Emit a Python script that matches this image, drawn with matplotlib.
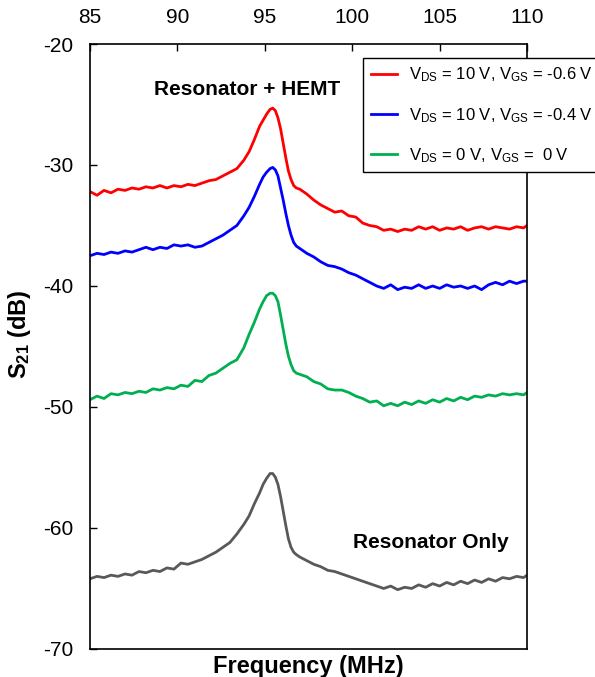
import matplotlib
matplotlib.use("Agg")
import matplotlib.pyplot as plt

plt.rcParams["font.family"] = ["Liberation Sans", "DejaVu Sans"]
plt.rcParams["mathtext.fontset"] = "custom"
plt.rcParams["mathtext.rm"] = "Liberation Sans"
plt.rcParams["mathtext.it"] = "Liberation Sans:italic"
plt.rcParams["mathtext.bf"] = "Liberation Sans:bold"
plt.rcParams["axes.unicode_minus"] = False

freq = [85.0, 85.4, 85.8, 86.2, 86.6, 87.0, 87.4, 87.8, 88.2, 88.6, 89.0, 89.4,
        89.8, 90.2, 90.6, 91.0, 91.4, 91.8, 92.2, 92.6, 93.0, 93.4, 93.8,
        94.1, 94.4, 94.7, 94.9, 95.1, 95.3, 95.45, 95.6, 95.75, 95.9, 96.05,
        96.2, 96.35, 96.5, 96.65, 96.8,
        97.0, 97.4, 97.8, 98.2, 98.6, 99.0, 99.4, 99.8, 100.2, 100.6, 101.0,
        101.4, 101.8, 102.2, 102.6, 103.0, 103.4, 103.8, 104.2, 104.6, 105.0,
        105.4, 105.8, 106.2, 106.6, 107.0, 107.4, 107.8, 108.2, 108.6, 109.0,
        109.4, 109.8, 110.0]

s21_red = [-32.2, -32.5, -32.1, -32.3, -32.0, -32.1, -31.9, -32.0, -31.8, -31.9, -31.7, -31.9,
           -31.7, -31.8, -31.6, -31.7, -31.5, -31.3, -31.2, -30.9, -30.6, -30.3, -29.6,
           -28.9, -27.9, -26.8, -26.3, -25.8, -25.4, -25.3, -25.5, -26.1, -27.0, -28.2,
           -29.4, -30.5, -31.2, -31.7, -31.9,
           -32.0, -32.4, -32.9, -33.3, -33.6, -33.9, -33.8, -34.2, -34.3, -34.8, -35.0,
           -35.1, -35.4, -35.3, -35.5, -35.3, -35.4, -35.1, -35.3, -35.1, -35.4,
           -35.2, -35.3, -35.1, -35.4, -35.2, -35.1, -35.3, -35.1, -35.2, -35.3,
           -35.1, -35.2, -35.0]

s21_blue = [-37.5, -37.3, -37.4, -37.2, -37.3, -37.1, -37.2, -37.0, -36.8, -37.0, -36.8, -36.9,
            -36.6, -36.7, -36.6, -36.8, -36.7, -36.4, -36.1, -35.8, -35.4, -35.0, -34.2,
            -33.5, -32.6, -31.6, -31.0, -30.6, -30.3, -30.2, -30.4, -30.9, -31.9, -32.9,
            -34.0, -35.0, -35.8, -36.4, -36.7,
            -36.9, -37.3, -37.6, -38.0, -38.3, -38.4, -38.6, -38.9, -39.1, -39.4, -39.7,
            -40.0, -40.2, -39.9, -40.3, -40.1, -40.2, -39.9, -40.2, -40.0, -40.2,
            -39.9, -40.1, -40.0, -40.2, -40.0, -40.3, -39.9, -39.7, -39.9, -39.6,
            -39.8, -39.6, -39.6]

s21_green = [-49.4, -49.1, -49.3, -48.9, -49.0, -48.8, -48.9, -48.7, -48.8, -48.5, -48.6, -48.4,
             -48.5, -48.2, -48.3, -47.8, -47.9, -47.4, -47.2, -46.8, -46.4, -46.1, -45.1,
             -44.0, -43.0, -41.9, -41.3, -40.8, -40.6, -40.6, -40.8, -41.3, -42.4, -43.6,
             -44.8, -45.8, -46.5, -47.0, -47.2,
             -47.3, -47.5, -47.9, -48.1, -48.5, -48.6, -48.6, -48.8, -49.1, -49.3, -49.6,
             -49.5, -49.9, -49.7, -49.9, -49.6, -49.8, -49.5, -49.7, -49.4, -49.6,
             -49.3, -49.5, -49.2, -49.4, -49.1, -49.2, -49.0, -49.1, -48.9, -49.0,
             -48.9, -49.0, -48.8]

s21_only = [-64.2, -64.0, -64.1, -63.9, -64.0, -63.8, -63.9, -63.6, -63.7, -63.5, -63.6, -63.3,
            -63.4, -62.9, -63.0, -62.8, -62.6, -62.3, -62.0, -61.6, -61.2, -60.5, -59.7,
            -59.0, -58.0, -57.1, -56.4, -55.9, -55.5, -55.5, -55.8, -56.4, -57.4, -58.6,
            -59.8, -60.9, -61.6, -62.0, -62.2,
            -62.4, -62.7, -63.0, -63.2, -63.5, -63.6, -63.8, -64.0, -64.2, -64.4, -64.6,
            -64.8, -65.0, -64.8, -65.1, -64.9, -65.0, -64.7, -64.9, -64.6, -64.8,
            -64.5, -64.7, -64.4, -64.6, -64.3, -64.5, -64.2, -64.4, -64.1, -64.2,
            -64.0, -64.1, -63.9]

labels = [r"V$_{\mathrm{DS}}$ = 10 V, V$_{\mathrm{GS}}$ = -0.6 V",
          r"V$_{\mathrm{DS}}$ = 10 V, V$_{\mathrm{GS}}$ = -0.4 V",
          r"V$_{\mathrm{DS}}$ = 0 V, V$_{\mathrm{GS}}$ =  0 V"]

fig = plt.figure(figsize=(5.95, 6.77), dpi=100)
ax = fig.add_axes([0.1513, 0.0414, 0.7345, 0.8936])

lw = 2.0
ax.plot(freq, s21_red, color="#ff0000", lw=lw, label=labels[0])
ax.plot(freq, s21_blue, color="#0000ff", lw=lw, label=labels[1])
ax.plot(freq, s21_green, color="#00b050", lw=lw, label=labels[2])
ax.plot(freq, s21_only, color="#595959", lw=lw)

ax.set_xlim(85, 110)
ax.set_ylim(-70, -20)
ax.set_xticks([85, 90, 95, 100, 105, 110])
ax.set_yticks([-70, -60, -50, -40, -30, -20])

ax.xaxis.tick_top()
ax.tick_params(axis="both", direction="in", length=5, width=1, labelsize=15, pad=12)
for sp in ax.spines.values():
    sp.set_linewidth(1.2)

ax.set_xlabel("Frequency (MHz)", fontsize=17, fontweight="bold")
ax.xaxis.set_label_position("bottom")
ax.xaxis.labelpad = 4
ax.set_ylabel(r"$\mathbf{S}_{\mathbf{21}}$ (dB)", fontsize=17, fontweight="bold")
ax.yaxis.set_label_coords(-0.13, 0.52)

ax.text(94.0, -23.8, "Resonator + HEMT", fontsize=15, fontweight="bold", ha="center", va="center")
ax.text(104.5, -61.2, "Resonator Only", fontsize=15, fontweight="bold", ha="center", va="center")

leg = ax.legend(loc="upper left", bbox_to_anchor=(363 / 595, 1 - 58 / 677),
                bbox_transform=fig.transFigure, fontsize=12, frameon=True,
                fancybox=False, edgecolor="black", framealpha=1,
                handlelength=1.6, handletextpad=0.7, labelspacing=1.3,
                borderpad=0.45, borderaxespad=0)
leg.get_frame().set_linewidth(1.0)

plt.savefig("out.png", dpi=100)
